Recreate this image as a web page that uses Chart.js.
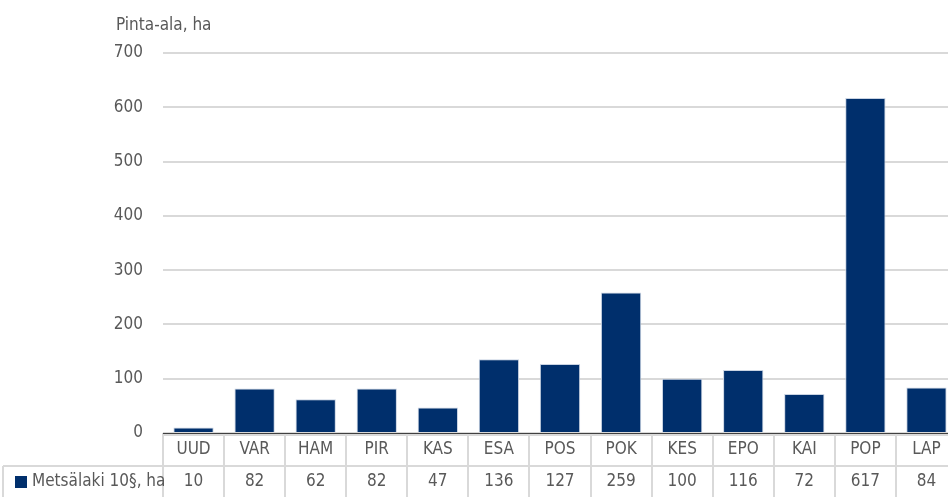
<!DOCTYPE html>
<html>
<head>
<meta charset="utf-8">
<script src="https://cdn.jsdelivr.net/npm/chart.js@4"></script>
<style>
    html, body { margin: 0; padding: 0; background: #fff; overflow: hidden; }
    #clip { width: 948px; height: 497px; overflow: hidden; }
    #wrap { width: 958px; height: 497px; }
</style>
</head>
<body>
<div id="clip"><div id="wrap"><canvas id="chart"></canvas></div></div>
<script>
// Data
const regions = ['UUD', 'VAR', 'HAM', 'PIR', 'KAS', 'ESA', 'POS', 'POK', 'KES', 'EPO', 'KAI', 'POP', 'LAP'];
const areaHa = [10, 82, 62, 82, 47, 136, 127, 259, 100, 116, 72, 617, 84];
const seriesName = 'Metsälaki 10§, ha';
const axisTitle = 'Pinta-ala, ha';

const FONT = '"DejaVu Sans", sans-serif';
const STRETCH = 'condensed';   // canvas font shorthand accepts font-stretch here
const TEXT = '#595959';
const BAR = '#002F6C';
const GRID = '#d9d9d9';

// Draws the axis title and the data table under the plot
const tablePlugin = {
    id: 'dataTable',
    afterDraw(chart) {
        const ctx = chart.ctx;
        const area = chart.chartArea;
        const x = chart.scales.x;
        const colW = area.width / regions.length;
        const rowH = 32;
        const top = area.bottom;
        const mid = top + rowH + 1;
        const bottom = chart.height;
        const legendLeft = 3;

        ctx.save();
        ctx.font = STRETCH + ' 17px ' + FONT;
        ctx.fillStyle = TEXT;
        ctx.textBaseline = 'middle';
        ctx.textAlign = 'left';
        ctx.fillText(axisTitle, area.left - 47, area.top - 27);

        // grid lines of the table
        ctx.strokeStyle = GRID;
        ctx.lineWidth = 2;
        ctx.beginPath();
        ctx.moveTo(legendLeft, mid);
        ctx.lineTo(area.right, mid);
        ctx.moveTo(legendLeft, mid);
        ctx.lineTo(legendLeft, bottom);
        ctx.moveTo(area.left, top + 2);
        ctx.lineTo(area.right, top + 2);
        for (let i = 0; i <= regions.length; i++) {
            const bx = Math.round(area.left + i * colW);
            ctx.moveTo(bx, top);
            ctx.lineTo(bx, bottom);
        }
        ctx.stroke();

        // axis line
        ctx.strokeStyle = '#404040';
        ctx.lineWidth = 1;
        ctx.beginPath();
        ctx.moveTo(area.left, top + 0.5);
        ctx.lineTo(area.right, top + 0.5);
        ctx.stroke();

        ctx.textAlign = 'center';
        regions.forEach((r, i) => {
            const cx = x.getPixelForValue(i);
            ctx.fillText(r, cx, top + rowH / 2 + 1);
            ctx.fillText(String(areaHa[i]), cx, mid + (bottom - mid) / 2);
        });

        // legend cell
        ctx.fillStyle = BAR;
        ctx.fillRect(legendLeft + 12, mid + 10, 12, 12);
        ctx.fillStyle = TEXT;
        ctx.textAlign = 'left';
        ctx.fillText(seriesName, legendLeft + 29, mid + (bottom - mid) / 2);
        ctx.restore();
    }
};

new Chart(document.getElementById('chart'), {
    type: 'bar',
    data: {
        labels: regions,
        datasets: [{
            label: seriesName,
            data: areaHa,
            backgroundColor: BAR,
            borderColor: '#c9d3e2',
            borderWidth: 1,
            categoryPercentage: 1,
            barPercentage: 0.66
        }]
    },
    options: {
        responsive: true,
        maintainAspectRatio: false,
        animation: false,
        layout: { padding: { top: 53, right: 1, bottom: 64, left: 0 } },
        plugins: {
            legend: { display: false },
            tooltip: { enabled: false }
        },
        scales: {
            x: {
                display: false
            },
            y: {
                min: 0,
                max: 700,
                afterFit(scale) { scale.width = 163; },
                border: { display: false },
                grid: { color: GRID, lineWidth: 2, drawTicks: false },
                ticks: {
                    stepSize: 100,
                    padding: 20,
                    color: TEXT,
                    // style is validated by Chart.js, weight is not, so the stretch goes there
                    font: { family: FONT, size: 17, weight: STRETCH }
                }
            }
        }
    },
    plugins: [tablePlugin]
});
</script>
</body>
</html>
